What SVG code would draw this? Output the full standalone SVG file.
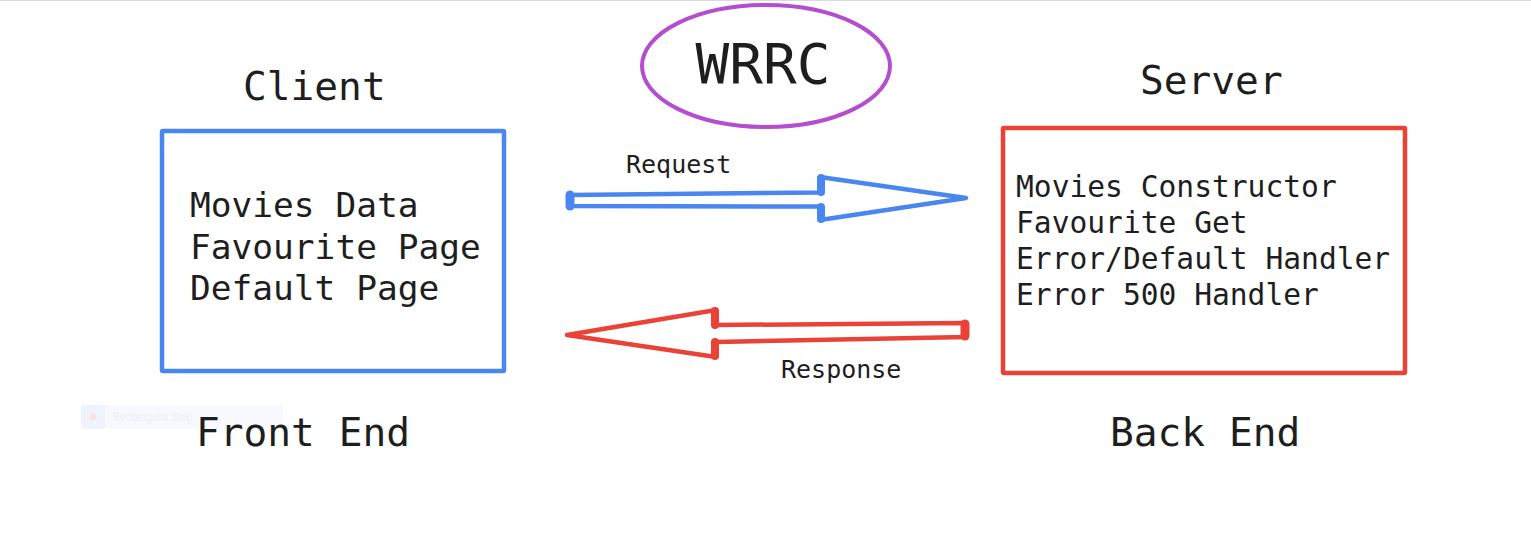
<svg xmlns="http://www.w3.org/2000/svg" width="1531" height="533" viewBox="0 0 1531 533">
<style>
.mono{font-family:"DejaVu Sans Mono","Liberation Mono",monospace;fill:#1e1e1e}
.lbl{font-size:39.5px}
.body{font-size:34.5px}
.srv{font-size:29.6px}
.conn{font-size:25px}
.blue{fill:none;stroke:#4a86ef;stroke-linejoin:round;stroke-linecap:round}
.red{fill:none;stroke:#ea4236;stroke-linejoin:round;stroke-linecap:round}
</style>
<rect width="1531" height="533" fill="#ffffff"/>
<line x1="0" y1="0.5" x2="1531" y2="0.5" stroke="#dcdcdc" stroke-width="1"/>
<g id="tooltip">
<rect x="81" y="405" width="202" height="24" fill="#f7f9fe"/>
<rect x="81" y="405" width="24" height="24" fill="#eef3fd"/>
<circle cx="93" cy="417" r="3.5" fill="#f6e4e4"/>
<text x="113" y="421" font-family="Roboto,'Liberation Sans',sans-serif" font-size="12" fill="#eef0f4" textLength="80" lengthAdjust="spacingAndGlyphs">Rectangular Snip</text>
</g>
<g id="title">
<ellipse cx="766" cy="66" rx="124" ry="61" fill="none" stroke="#b44ecf" stroke-width="4"/>
<text class="mono" x="763" y="83" font-size="56" text-anchor="middle">WRRC</text>
</g>
<g id="client">
<text class="mono lbl" x="243" y="100">Client</text>
<rect x="162" y="131" width="342" height="240" fill="none" stroke="#4a86ef" stroke-width="4.5" rx="1"/>
<text class="mono body" x="190" y="217">Movies Data</text>
<text class="mono body" x="190" y="259">Favourite Page</text>
<text class="mono body" x="190" y="300">Default Page</text>
<text class="mono lbl" x="196" y="446">Front End</text>
</g>
<g id="server">
<text class="mono lbl" x="1140" y="94">Server</text>
<rect x="1003" y="128" width="402" height="245" fill="none" stroke="#ea4236" stroke-width="4.5" rx="1"/>
<text class="mono srv" x="1016" y="197">Movies Constructor</text>
<text class="mono srv" x="1016" y="233">Favourite Get</text>
<text class="mono srv" x="1016" y="269">Error/Default Handler</text>
<text class="mono srv" x="1016" y="305">Error 500 Handler</text>
<text class="mono lbl" x="1110" y="446">Back End</text>
</g>
<g id="connectors">
<g id="request">
<path class="blue" stroke-width="4.5" d="M570 195 L820 192.5 L820 177 L966 198 L820 220 L820 206.5 L570 206 Z"/>
<line class="blue" x1="570" y1="195" x2="570" y2="206" stroke-width="9"/>
<line class="blue" x1="821" y1="178" x2="821" y2="192" stroke-width="8"/>
<line class="blue" x1="821" y1="207" x2="821" y2="219" stroke-width="8"/>
<text class="mono conn" x="626" y="173">Request</text>
</g>
<g id="response">
<path class="red" stroke-width="4.5" d="M567 335 L716 310 L716 325 L966 323 L966 337 L716 342 L716 357 Z"/>
<line class="red" x1="965" y1="324" x2="965" y2="336" stroke-width="9"/>
<line class="red" x1="715" y1="311" x2="715" y2="325" stroke-width="8"/>
<line class="red" x1="715" y1="342" x2="715" y2="356" stroke-width="8"/>
<text class="mono conn" x="781" y="378">Response</text>
</g>
</g>
</svg>
